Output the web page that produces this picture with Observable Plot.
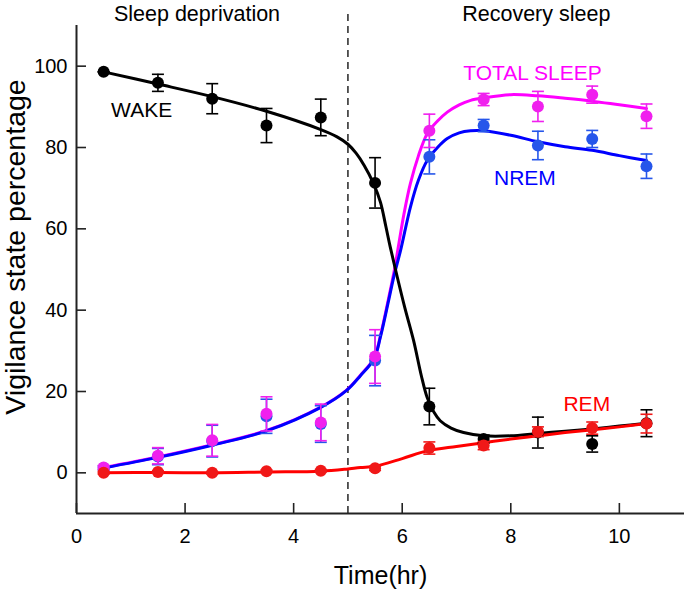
<!DOCTYPE html>
<html><head><meta charset="utf-8">
<script src="https://cdn.jsdelivr.net/npm/d3@7"></script>
<script src="https://cdn.jsdelivr.net/npm/@observablehq/plot@0.6"></script>
<style>
body{margin:0;background:#fff}
#chart{width:685px;height:592px}
</style>
</head><body><div id="chart"></div>
<script>
// ---- data ----
const hours = [0.5, 1.5, 2.5, 3.5, 4.5, 5.5, 6.5, 7.5, 8.5, 9.5, 10.5];

const wakeMean  = [98.6, 95.9, 92.0, 85.4, 87.4, 71.3, 16.3, 8.3, 9.9, 7.1, 12.2];
const wakeErr   = [0, 2.1, 3.7, 4.2, 4.5, 6.2, 4.5, 1.0, 3.8, 2.0, 3.3];
const nremMean  = [1.2, 4.0, 7.8, 13.9, 12.0, 27.6, 77.7, 85.4, 80.5, 82.1, 75.4];
const nremErr   = [0.5, 2.0, 3.9, 4.2, 4.5, 6.2, 4.2, 1.5, 3.5, 2.1, 3.0];
const totalMean = [1.3, 4.2, 8.0, 14.5, 12.4, 28.6, 84.1, 91.8, 90.1, 93.0, 87.7];
const totalErr  = [0.5, 2.0, 3.9, 4.2, 4.5, 6.6, 4.1, 1.5, 3.7, 2.1, 3.0];
const remMean   = [0, 0.2, 0, 0.4, 0.5, 1.1, 6.1, 6.7, 10.1, 11.0, 12.1];
const remErr    = [0.3, 0.3, 0.3, 0.3, 0.3, 0.5, 1.5, 1.0, 1.2, 1.5, 2.3];

// fitted curves
const wakeCurveX = [0.5, 1.5, 2.5, 3.5, 4.5, 4.8, 5.0, 5.15, 5.3, 5.47, 5.6, 5.7, 5.78, 5.91, 6.05, 6.21, 6.35, 6.46, 6.58, 6.7, 6.9, 7.13, 7.5, 8.0, 8.5, 9.0, 9.5, 10.0, 10.5];
const wakeCurveY = [98.6, 95.6, 92.5, 88.9, 84.4, 82.6, 80.8, 78.6, 75.6, 71.2, 66.5, 60.5, 55.5, 48.1, 40.5, 32.5, 24.0, 18.5, 15.0, 12.8, 11.0, 9.9, 9.1, 9.1, 9.7, 10.2, 10.8, 11.5, 12.2];

const nremCurveX = [0.5, 1.5, 2.5, 3.5, 4.5, 4.97, 5.23, 5.48, 5.6, 5.75, 5.85, 5.97, 6.15, 6.3, 6.46, 6.65, 6.83, 7.05, 7.26, 7.5, 8.0, 8.5, 9.0, 9.5, 10.0, 10.5];
const nremCurveY = [1.2, 3.8, 6.8, 10.3, 16.1, 20.2, 23.9, 28.0, 33.5, 42.4, 48.5, 54.7, 65.3, 72.0, 76.8, 80.0, 82.2, 83.6, 84.1, 84.1, 83.0, 81.4, 80.2, 79.3, 78.0, 76.8];

const totalCurveX = [0.5, 1.5, 2.5, 3.5, 4.5, 4.97, 5.23, 5.48, 5.6, 5.75, 5.85, 5.94, 6.03, 6.15, 6.3, 6.46, 6.65, 6.83, 7.05, 7.26, 7.5, 8.0, 8.5, 9.0, 9.5, 10.0, 10.5];
const totalCurveY = [1.3, 3.9, 6.9, 10.4, 16.2, 20.3, 24.0, 28.2, 33.8, 43.0, 49.5, 56.5, 63.5, 71.1, 78.0, 83.4, 86.5, 88.7, 90.5, 91.6, 92.2, 93.0, 92.7, 92.1, 91.4, 90.5, 89.6];

const remCurveX = [0.5, 1.5, 2.5, 3.5, 4.5, 4.97, 5.23, 5.5, 6.0, 6.46, 7.0, 7.5, 8.0, 8.5, 9.0, 9.5, 10.0, 10.5];
const remCurveY = [0, 0.1, 0, 0.2, 0.4, 0.9, 1.3, 1.6, 3.5, 5.4, 6.5, 7.4, 8.3, 9.1, 9.9, 10.6, 11.3, 12.1];

const xTicks = [0, 2, 4, 6, 8, 10];
const yTicks = [0, 20, 40, 60, 80, 100];
const xDomain = [0, 11.2];
const yDomain = [-10, 110];
const dividerHour = 5;

const seriesNames = ["WAKE", "NREM", "TOTAL SLEEP", "REM"];
const lineColors  = ["#000000", "#0000ff", "#ff00ff", "#ff0000"];
const dotColors   = ["#000000", "#2656ea", "#f020ee", "#f01818"];

// annotations (data units)
const labelText = ["WAKE", "NREM", "TOTAL SLEEP", "REM"];
const labelX = [1.2, 8.26, 8.4, 9.4];
const labelY = [87.5, 70.9, 96.55, 15.3];
const phaseText = ["Sleep deprivation", "Recovery sleep"];
const phaseX = [2.22, 8.47];
const phaseY = 111;

// ---- build tables ----
const means = [wakeMean, nremMean, totalMean, remMean];
const errs = [wakeErr, nremErr, totalErr, remErr];
const curvesX = [wakeCurveX, nremCurveX, totalCurveX, remCurveX];
const curvesY = [wakeCurveY, nremCurveY, totalCurveY, remCurveY];

const pts = seriesNames.map((s, i) => hours.map((h, j) => ({s, i, x: h, y: means[i][j], e: errs[i][j]})));
const curves = seriesNames.map((s, i) => curvesX[i].map((x, j) => ({s, i, x, y: curvesY[i][j]})));

const cap = {draw(ctx, size) { const r = Math.sqrt(size / Math.PI); ctx.moveTo(-r, 0); ctx.lineTo(r, 0); }};

// draw order: lines magenta, blue, black, red ; points blue, magenta, black, red
const lineOrder = [2, 1, 0, 3];
const dotOrder = [1, 2, 0, 3];

const marks = [];
for (const i of lineOrder) {
  marks.push(Plot.line(curves[i], {x: "x", y: "y", stroke: lineColors[i], strokeWidth: 3, curve: "catmull-rom"}));
}
for (const i of dotOrder) {
  const c = dotColors[i];
  marks.push(
    Plot.ruleX(pts[i], {x: "x", y1: d => d.y - d.e, y2: d => d.y + d.e, stroke: c, strokeWidth: 1.6}),
    Plot.dot(pts[i], {x: "x", y: d => d.y + d.e, symbol: cap, r: 6, stroke: c, strokeWidth: 1.6, fill: "none"}),
    Plot.dot(pts[i], {x: "x", y: d => d.y - d.e, symbol: cap, r: 6, stroke: c, strokeWidth: 1.6, fill: "none"}),
    Plot.dot(pts[i], {x: "x", y: "y", r: 6, fill: c, stroke: "none"})
  );
}

const chart = Plot.plot({
  width: 685,
  height: 592,
  marginLeft: 76,
  marginRight: 1,
  marginTop: 25,
  marginBottom: 79,
  style: {fontFamily: "'Liberation Sans', Arial, Helvetica, sans-serif", fontSize: "20px", background: "#fff", color: "#000"},
  x: {domain: xDomain},
  y: {domain: yDomain},
  marks: [
    Plot.ruleX([dividerHour], {stroke: "#333", strokeWidth: 1.6, strokeDasharray: "7,5", insetTop: -11}),
    ...marks,
    // axis lines
    Plot.ruleX([xDomain[0]], {stroke: "#222", strokeWidth: 2}),
    Plot.ruleY([yDomain[0]], {stroke: "#222", strokeWidth: 2}),
    // inward ticks
    Plot.tickX(xTicks, {x: d => d, stroke: "#222", strokeWidth: 1.6, insetTop: 478}),
    Plot.tickY(yTicks, {y: d => d, stroke: "#222", strokeWidth: 1.6, insetRight: 598}),
    // tick labels
    Plot.axisX({ticks: xTicks, tickSize: 0, tickPadding: 15, fontSize: 20, label: null}),
    Plot.axisY({ticks: yTicks, tickSize: 0, tickPadding: 9, fontSize: 20, label: null}),
    // axis titles
    Plot.text(["Time(hr)"], {frameAnchor: "bottom", lineAnchor: "top", dy: 53, fontSize: 25, fill: "#000"}),
    Plot.text(["Vigilance state percentage"], {frameAnchor: "left", textAnchor: "middle", rotate: -90, lineAnchor: "middle", dx: -61, dy: -22.5, fontSize: 28.5, fill: "#000"}),
    // phase titles
    Plot.text(phaseText, {x: (d, k) => phaseX[k], y: () => phaseY, lineAnchor: "bottom", fontSize: 21.5, fill: "#000"}),
    // series labels
    Plot.text(labelText, {x: (d, k) => labelX[k], y: (d, k) => labelY[k], lineAnchor: "bottom", fontSize: 21, fill: (d, k) => lineColors[k]})
  ]
});
document.getElementById("chart").appendChild(chart);
</script>
</body></html>
